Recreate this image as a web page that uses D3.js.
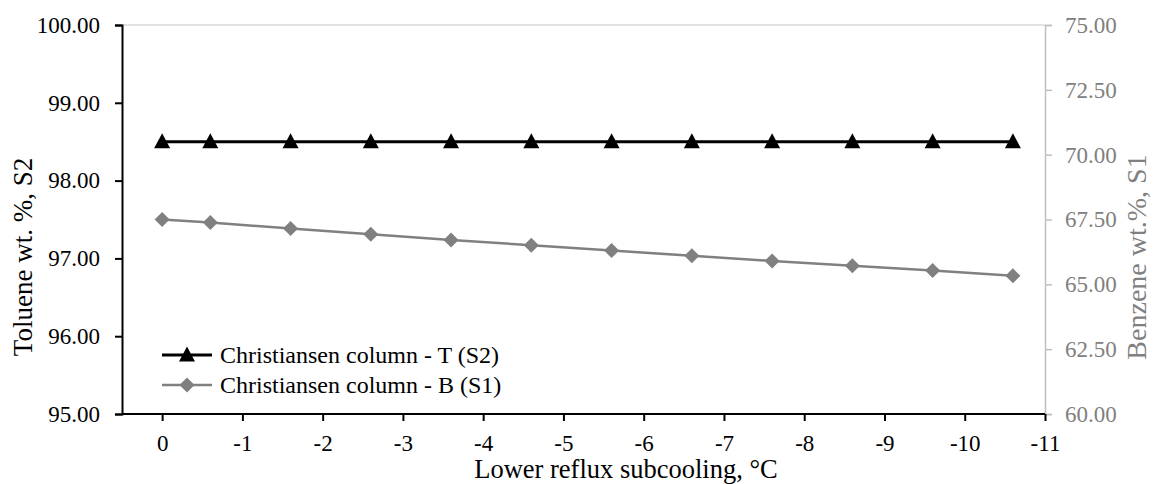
<!DOCTYPE html>
<html>
<head>
<meta charset="utf-8">
<script src="https://cdn.jsdelivr.net/npm/d3@7"></script>
<style>
  body { margin: 0; background: #fff; }
</style>
</head>
<body>
<div id="chart"></div>
<script>
// x values (subcooling, °C) shared by both series
const subcooling = [0, -0.6, -1.6, -2.6, -3.6, -4.6, -5.6, -6.6, -7.6, -8.6, -9.6, -10.6];
// Toluene wt.% in S2 (left axis)
const tolueneS2 = [98.5, 98.5, 98.5, 98.5, 98.5, 98.5, 98.5, 98.5, 98.5, 98.5, 98.5, 98.5];
// Benzene wt.% in S1 (right axis)
const benzeneS1 = [67.50, 67.38, 67.15, 66.93, 66.71, 66.51, 66.30, 66.10, 65.90, 65.72, 65.53, 65.33];

const xTicks = [0, -1, -2, -3, -4, -5, -6, -7, -8, -9, -10, -11];
const leftTicks = [95, 96, 97, 98, 99, 100];
const rightTicks = [60, 62.5, 65, 67.5, 70, 72.5, 75];
const seriesNames = ["Christiansen column - T (S2)", "Christiansen column - B (S1)"];

const W = 1154, H = 484;
const plot = { left: 122, right: 1045, top: 25, bottom: 414 };
const grey = "#808080";
const serif = '"Liberation Serif", "Times New Roman", serif';

const svg = d3.select("#chart").append("svg")
    .attr("width", W)
    .attr("height", H)
    .style("font-family", serif);

const x = d3.scaleLinear().domain([0.5, -11]).range([plot.left, plot.right]);
const yL = d3.scaleLinear().domain([95, 100]).range([plot.bottom, plot.top]);
const yR = d3.scaleLinear().domain([60, 75]).range([plot.bottom, plot.top]);

// top border of plot area
svg.append("line")
    .attr("x1", plot.left).attr("x2", plot.right)
    .attr("y1", plot.top).attr("y2", plot.top)
    .attr("stroke", "#d9d9d9").attr("stroke-width", 1.5);

// right axis
const axR = svg.append("g")
    .attr("transform", `translate(${plot.right},0)`)
    .call(d3.axisRight(yR).tickValues(rightTicks).tickSize(7).tickPadding(13).tickFormat(d3.format(".2f")));
axR.select(".domain").attr("stroke", "#bfbfbf").attr("stroke-width", 1.5);
axR.selectAll(".tick line").attr("stroke", "#bfbfbf").attr("stroke-width", 1.5);
axR.selectAll("text").attr("fill", grey)
    .style("font-family", serif).style("font-size", "23px");

// left axis
const axL = svg.append("g")
    .attr("transform", `translate(${plot.left},0)`)
    .call(d3.axisLeft(yL).tickValues(leftTicks).tickSize(7).tickPadding(15).tickFormat(d3.format(".2f")));
axL.select(".domain").attr("stroke", "#000").attr("stroke-width", 2);
axL.selectAll(".tick line").attr("stroke", "#000").attr("stroke-width", 2);
axL.selectAll("text").attr("fill", "#000")
    .style("font-family", serif).style("font-size", "23px");

// bottom axis
const axB = svg.append("g")
    .attr("transform", `translate(0,${plot.bottom})`)
    .call(d3.axisBottom(x).tickValues(xTicks).tickSize(7).tickPadding(14));
axB.select(".domain").attr("stroke", "#000").attr("stroke-width", 2)
    .attr("d", `M${plot.left},0H${plot.right}`);
axB.selectAll(".tick line").attr("stroke", "#000").attr("stroke-width", 2);
axB.selectAll("text").attr("fill", "#000")
    .style("font-family", serif).style("font-size", "23px")
    .text(d => d === 0 ? "0" : "-" + Math.abs(d));

// series B (S1) on right axis
const dataB = subcooling.map((s, i) => ({ x: s, y: benzeneS1[i] }));
svg.append("path")
    .datum(dataB)
    .attr("fill", "none")
    .attr("stroke", grey)
    .attr("stroke-width", 2.5)
    .attr("d", d3.line().x(d => x(d.x)).y(d => yR(d.y)));
svg.selectAll(".dia")
    .data(dataB)
    .enter().append("path")
    .attr("class", "dia")
    .attr("transform", d => `translate(${x(d.x)},${yR(d.y)})`)
    .attr("d", "M0,-7.5L7.5,0L0,7.5L-7.5,0Z")
    .attr("fill", grey);

// series T (S2) on left axis
const dataT = subcooling.map((s, i) => ({ x: s, y: tolueneS2[i] }));
svg.append("path")
    .datum(dataT)
    .attr("fill", "none")
    .attr("stroke", "#000")
    .attr("stroke-width", 3)
    .attr("d", d3.line().x(d => x(d.x)).y(d => yL(d.y)));
svg.selectAll(".tri")
    .data(dataT)
    .enter().append("path")
    .attr("class", "tri")
    .attr("transform", d => `translate(${x(d.x)},${yL(d.y)})`)
    .attr("d", "M0,-8.5L8,6.5L-8,6.5Z")
    .attr("fill", "#000");

// legend
const legend = svg.selectAll(".legend")
    .data(seriesNames)
    .enter().append("g")
    .attr("class", "legend")
    .attr("transform", (d, i) => `translate(162, ${355 + i * 30})`);
legend.append("line")
    .attr("x1", 0).attr("x2", 50)
    .attr("stroke", (d, i) => i === 0 ? "#000" : grey)
    .attr("stroke-width", (d, i) => i === 0 ? 3 : 2.5);
legend.append("path")
    .attr("transform", "translate(25,0)")
    .attr("d", (d, i) => i === 0 ? "M0,-8.5L8,6.5L-8,6.5Z" : "M0,-7.5L7.5,0L0,7.5L-7.5,0Z")
    .attr("fill", (d, i) => i === 0 ? "#000" : grey);
legend.append("text")
    .attr("x", 58)
    .attr("dy", "0.33em")
    .style("font-family", serif)
    .style("font-size", "24px")
    .text(d => d);

// axis titles
svg.append("text")
    .attr("transform", "translate(32,257) rotate(-90)")
    .attr("text-anchor", "middle")
    .style("font-family", serif)
    .style("font-size", "27px")
    .text("Toluene wt. %, S2");

svg.append("text")
    .attr("transform", "translate(1146,257) rotate(-90)")
    .attr("text-anchor", "middle")
    .attr("fill", grey)
    .style("font-family", serif)
    .style("font-size", "28px")
    .text("Benzene wt.%, S1");

svg.append("text")
    .attr("x", 626)
    .attr("y", 478)
    .attr("text-anchor", "middle")
    .style("font-family", serif)
    .style("font-size", "26.5px")
    .text("Lower reflux subcooling, °C");
</script>
</body>
</html>
